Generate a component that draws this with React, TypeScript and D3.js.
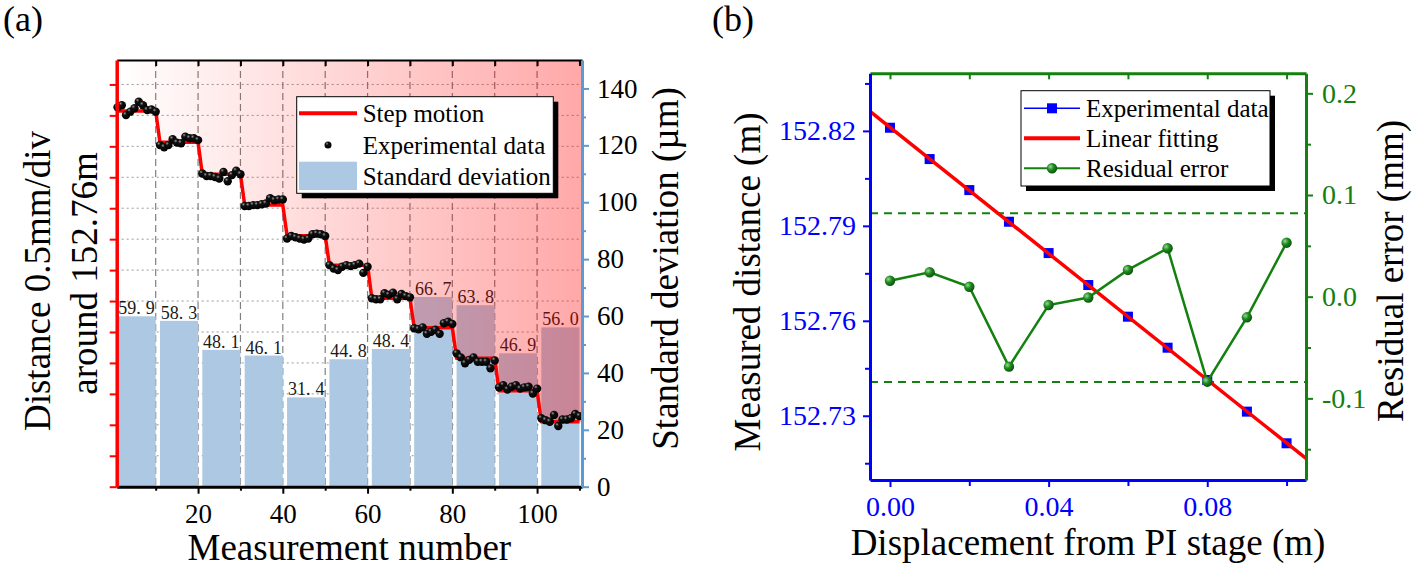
import React, { useEffect, useRef } from 'react';
import * as d3 from 'd3';

const W = 1416;
const H = 572;
const serif = '"Liberation Serif", "Times New Roman", serif';

// ---------- panel (a) ----------
// step level of each group of 10 measurements, in 0.5 mm divisions
const stepLevels = [12.14, 11.13, 10.1, 9.1, 8.11, 7.16, 6.09, 5.14, 4.15, 3.1, 2.1];
// measured distance for measurement 1..110 (divisions)
const measured = [
  12.26, 12.33, 12.01, 12.12, 12.23, 12.44, 12.33, 12.17, 12.19, 12.12,
  11.04, 10.97, 11.04, 11.23, 11.12, 11.1, 11.31, 11.26, 11.26, 11.2,
  10.12, 10.04, 10.04, 10.01, 9.96, 10.17, 9.87, 10.07, 10.21, 10.1,
  9.07, 9.07, 9.1, 9.1, 9.13, 9.15, 9.32, 9.26, 9.28, 9.28,
  8.02, 8.1, 8.06, 8.02, 7.99, 8.02, 8.16, 8.18, 8.16, 8.1,
  7.16, 7.05, 7.0, 7.11, 7.16, 7.13, 7.16, 7.21, 6.91, 7.11,
  6.09, 6.06, 6.06, 6.25, 6.2, 6.27, 6.06, 6.23, 6.16, 6.12,
  5.12, 5.09, 5.15, 4.94, 5.01, 5.07, 4.94, 5.28, 5.33, 5.26,
  4.31, 4.18, 3.99, 4.1, 4.18, 4.04, 4.04, 4.04, 3.83, 4.08,
  3.21, 3.28, 3.14, 3.23, 3.28, 3.17, 3.21, 3.23, 3.01, 3.17,
  2.21, 2.15, 2.1, 2.32, 1.96, 2.17, 2.17, 2.21, 2.35, 2.28,
];
// standard deviation per step (µm)
const stdDev = [59.9, 58.3, 48.1, 46.1, 31.4, 44.8, 48.4, 66.7, 63.8, 46.9, 56.0];
const legendA = ['Step motion', 'Experimental data', 'Standard deviation'];

// ---------- panel (b) ----------
const displacement = [0, 0.01, 0.02, 0.03, 0.04, 0.05, 0.06, 0.07, 0.08, 0.09, 0.1];
const measuredDist = [152.821, 152.8111, 152.8013, 152.7913, 152.7814, 152.7713, 152.7613, 152.7515, 152.7413, 152.7313, 152.7213];
const residual = [0.0157, 0.024, 0.0098, -0.0688, -0.0082, -0.0008, 0.0263, 0.0476, -0.0836, -0.0203, 0.0531];
const residualBounds = [0.082, -0.084];
const legendB = ['Experimental data', 'Linear fitting', 'Residual error'];

const A = { left: 116.7, right: 582, top: 60, bottom: 486.7 };
const B = { left: 870, right: 1306, top: 73.3, bottom: 480 };

const xA = d3.scaleLinear().domain([0.8, 110.6]).range([A.left, A.right]);
const yA = d3.scaleLinear().domain([0, 13.79]).range([A.bottom, A.top]);
const yA2 = d3.scaleLinear().domain([0, 150]).range([A.bottom, A.top]);

const xB = d3.scaleLinear().domain([-0.00504, 0.1049]).range([B.left, B.right]);
const yB = d3.scaleLinear().domain([152.7097, 152.8382]).range([B.bottom, B.top]);
const yB2 = d3.scaleLinear().domain([-0.1803, 0.2197]).range([B.bottom, B.top]);

const blueA = '#5b9bd5';
const barColor = '#adc8e2';
const green = '#13800f';

export default function App() {
  const ref = useRef<SVGSVGElement>(null);

  const nums = measured.map((_, i) => i + 1);
  const stepPts = nums.map(n => ({ n, v: stepLevels[Math.floor((n - 1) / 10)] }));
  const areaPts = [{ n: xA.domain()[0], v: stepLevels[0] }, ...stepPts, { n: xA.domain()[1], v: stepLevels[stepLevels.length - 1] }];
  const stepLine = d3.line<any>().x(d => xA(d.n)).y(d => yA(d.v));
  const shade = d3.area<any>().x(d => xA(d.n)).y0(A.top).y1(d => yA(d.v));

  // least squares fit for panel (b)
  const mx = d3.mean(displacement)!;
  const my = d3.mean(measuredDist)!;
  const slope = d3.sum(displacement, (x, i) => (x - mx) * (measuredDist[i] - my)) / d3.sum(displacement, x => (x - mx) ** 2);
  const icpt = my - slope * mx;
  const fitLine = xB.domain().map(x => [xB(x), yB(icpt + slope * x)] as [number, number]);

  const expLine = d3.line<number>().x((d, i) => xB(displacement[i])).y(d => yB(d));
  const resLine = d3.line<number>().x((d, i) => xB(displacement[i])).y(d => yB2(d));

  useEffect(() => {
    const root = d3.select(ref.current);
    const put = (name: string, axis: any, color: string, lineW: number, fs = 27) => {
      const g = root.select<SVGGElement>(`g.${name}`);
      g.call(axis);
      g.attr('color', color).attr('font-family', serif).attr('font-size', fs);
      g.select('.domain').attr('stroke-width', lineW);
      g.selectAll('.tick line').attr('stroke-width', 2);
      return g;
    };
    const blank = () => '';

    // panel (a)
    put('a-top', d3.axisTop(xA).tickValues(d3.range(10, 111, 10)).tickSize(-6).tickSizeOuter(0).tickFormat(blank), '#000', 2);
    put('a-bot-minor', d3.axisBottom(xA).tickValues([10, 30, 50, 70, 90, 110]).tickSize(4).tickFormat(blank), '#000', 0)
      .select('.domain').remove();
    put('a-bot', d3.axisBottom(xA).tickValues([20, 40, 60, 80, 100]).tickSize(7).tickSizeOuter(0), '#000', 3)
      .selectAll('.tick text').attr('y', 36).attr('dy', null);
    put('a-right-minor', d3.axisRight(yA2).tickValues(d3.range(10, 150, 20)).tickSize(4).tickFormat(blank), blueA, 0)
      .select('.domain').remove();
    put('a-right', d3.axisRight(yA2).tickValues(d3.range(0, 141, 20)).tickSize(7).tickPadding(8).tickSizeOuter(0), blueA, 3)
      .selectAll('.tick text').attr('fill', '#000');
    put('a-left', d3.axisLeft(yA).tickValues(d3.range(0, 14)).tickSize(7).tickSizeOuter(0).tickFormat(blank), '#ff0000', 3.5);

    // panel (b)
    put('b-top', d3.axisTop(xB).tickValues([0, 0.02, 0.04, 0.06, 0.08, 0.1]).tickSize(-6).tickSizeOuter(0).tickFormat(blank), green, 3);
    put('b-bot-minor', d3.axisBottom(xB).tickValues([0.02, 0.06, 0.1]).tickSize(6).tickFormat(blank), '#0000ff', 0)
      .select('.domain').remove();
    put('b-bot', d3.axisBottom(xB).tickValues([0, 0.04, 0.08]).tickSize(7).tickSizeOuter(0).tickFormat((d: any) => d.toFixed(2)), '#0000ff', 3, 28)
      .selectAll('.tick text').attr('y', 36).attr('dy', null);
    put('b-right-minor', d3.axisRight(yB2).tickValues([-0.15, -0.05, 0.05, 0.15]).tickSize(5).tickFormat(blank), green, 0)
      .select('.domain').remove();
    put('b-right', d3.axisRight(yB2).tickValues([-0.1, 0, 0.1, 0.2]).tickSize(7).tickPadding(9).tickSizeOuter(0).tickFormat((d: any) => d.toFixed(1)), green, 3, 28);
    put('b-left-minor', d3.axisLeft(yB).tickValues([152.715, 152.745, 152.775, 152.805, 152.835]).tickSize(5).tickFormat(blank), '#0000ff', 0)
      .select('.domain').remove();
    put('b-left', d3.axisLeft(yB).tickValues([152.73, 152.76, 152.79, 152.82]).tickSize(7).tickPadding(7).tickSizeOuter(0).tickFormat((d: any) => d.toFixed(2)), '#0000ff', 3, 28);
  }, []);

  const legA = { x: 296.7, y: 96.7, w: 256.6, h: 96.6, rows: [113.3, 145, 176] };
  const legB = { x: 1021, y: 90.7, w: 249, h: 95.3, rows: [108.3, 138.3, 168.3] };

  return (
    <div style={{ position: 'absolute', left: 0, top: 0 }}>
      <svg ref={ref} width={W} height={H} style={{ display: 'block', background: '#fff' }}>
        <defs>
          <linearGradient id="redShade" x1="0" x2="1" y1="0" y2="0">
            <stop offset="0%" stopColor="#ff0000" stopOpacity={0} />
            <stop offset="100%" stopColor="#ff0000" stopOpacity={0.34} />
          </linearGradient>
          <radialGradient id="blackBall" cx="35%" cy="30%" r="70%">
            <stop offset="0%" stopColor="#9a9a9a" />
            <stop offset="30%" stopColor="#111" />
            <stop offset="100%" stopColor="#000" />
          </radialGradient>
          <radialGradient id="greenBall" cx="35%" cy="35%" r="70%">
            <stop offset="0%" stopColor="#9ad69a" />
            <stop offset="45%" stopColor="#1e8c1e" />
            <stop offset="100%" stopColor="#0a500a" />
          </radialGradient>
        </defs>

        {/* ---------------- panel (a) ---------------- */}
        <text x={3} y={31} fontFamily={serif} fontSize={36}>(a)</text>
        <g>
          {d3.range(1, 14).map(t => (
            <line key={'h' + t} x1={A.left} x2={A.right} y1={yA(t)} y2={yA(t)} stroke="#9a9a9a" strokeWidth={1} strokeDasharray="2,3" />
          ))}
          {d3.range(10, 101, 10).map(t => (
            <line key={'v' + t} x1={xA(t)} x2={xA(t)} y1={A.top} y2={A.bottom} stroke="#808080" strokeWidth={1.2} strokeDasharray="7,4" />
          ))}
        </g>
        <g>
          {stdDev.map((v, i) => (
            <rect key={i} x={xA(i * 10 + 1)} y={yA2(v)} width={xA(i * 10 + 10) - xA(i * 10 + 1)} height={A.bottom - yA2(v)} fill={barColor} />
          ))}
          {stdDev.map((v, i) => {
            const [a, b] = v.toFixed(1).split('.');
            return (
              <text key={'t' + i} x={xA(i * 10 + 5.5)} y={yA2(v) - 2} textAnchor="middle" fontFamily={serif} fontSize={18} fill="#1a1a1a">
                {a + '.'}<tspan dx={5}>{b}</tspan>
              </text>
            );
          })}
        </g>
        <path d={shade(areaPts)!} fill="url(#redShade)" />
        <path d={stepLine(stepPts)!} fill="none" stroke="#ff0000" strokeWidth={3.5} strokeLinejoin="round" />
        <g>
          {measured.map((v, i) => (
            <circle key={i} cx={xA(nums[i])} cy={yA(v)} r={4.2} fill="url(#blackBall)" />
          ))}
        </g>

        <g className="a-top" transform={`translate(0,${A.top})`} />
        <g className="a-bot-minor" transform={`translate(0,${A.bottom})`} />
        <g className="a-bot" transform={`translate(0,${A.bottom})`} />
        <g className="a-right-minor" transform={`translate(${A.right},0)`} />
        <g className="a-right" transform={`translate(${A.right},0)`} />
        <g className="a-left" transform={`translate(${A.left},0)`} />

        <g fontFamily={serif} fontSize={25}>
          <rect x={legA.x + 5} y={legA.y + 5} width={legA.w} height={legA.h} fill="#000" />
          <rect x={legA.x} y={legA.y} width={legA.w} height={legA.h} fill="#fff" stroke="#000" strokeWidth={1} />
          <line x1={299} x2={357} y1={legA.rows[0]} y2={legA.rows[0]} stroke="#ff0000" strokeWidth={4} />
          <circle cx={328} cy={legA.rows[1]} r={3.5} fill="url(#blackBall)" />
          <rect x={299} y={legA.rows[2] - 14.3} width={58} height={28.3} fill={barColor} />
          {legendA.map((s, i) => (
            <text key={s} x={362.7} y={legA.rows[i] + 9} fill="#000">{s}</text>
          ))}
        </g>

        <g fontFamily={serif} fontSize={37} fill="#000">
          <text x={(A.left + A.right) / 2} y={560} textAnchor="middle">Measurement number</text>
          <text transform="translate(50,281) rotate(-90)" textAnchor="middle">Distance 0.5mm/div</text>
          <text transform="translate(97,273.5) rotate(-90)" textAnchor="middle">around 152.76m</text>
          <text transform="translate(678,268.5) rotate(-90)" textAnchor="middle">Standard deviation (µm)</text>
        </g>

        {/* ---------------- panel (b) ---------------- */}
        <text x={712} y={31} fontFamily={serif} fontSize={36}>(b)</text>
        {residualBounds.map((v, i) => (
          <line key={i} x1={B.left} x2={B.right} y1={yB2(v)} y2={yB2(v)} stroke={green} strokeWidth={2} strokeDasharray="8,6" />
        ))}
        <path d={expLine(measuredDist)!} fill="none" stroke="#0000ff" strokeWidth={1.2} />
        {measuredDist.map((v, i) => (
          <rect key={i} x={xB(displacement[i]) - 5} y={yB(v) - 5} width={10} height={10} fill="#0000ff" />
        ))}
        <path d={d3.line()(fitLine)!} fill="none" stroke="#ff0000" strokeWidth={3.5} />
        <path d={resLine(residual)!} fill="none" stroke={green} strokeWidth={2.5} />
        {residual.map((v, i) => (
          <circle key={i} cx={xB(displacement[i])} cy={yB2(v)} r={5.2} fill="url(#greenBall)" />
        ))}

        <g className="b-top" transform={`translate(0,${B.top})`} />
        <g className="b-bot-minor" transform={`translate(0,${B.bottom})`} />
        <g className="b-bot" transform={`translate(0,${B.bottom})`} />
        <g className="b-right-minor" transform={`translate(${B.right},0)`} />
        <g className="b-right" transform={`translate(${B.right},0)`} />
        <g className="b-left-minor" transform={`translate(${B.left},0)`} />
        <g className="b-left" transform={`translate(${B.left},0)`} />

        <g fontFamily={serif} fontSize={25}>
          <rect x={legB.x + 5} y={legB.y + 5} width={legB.w} height={legB.h} fill="#000" />
          <rect x={legB.x} y={legB.y} width={legB.w} height={legB.h} fill="#fff" stroke="#000" strokeWidth={1} />
          <line x1={1024} x2={1080} y1={legB.rows[0]} y2={legB.rows[0]} stroke="#0000ff" strokeWidth={1.5} />
          <rect x={1047} y={legB.rows[0] - 5} width={10} height={10} fill="#0000ff" />
          <line x1={1024} x2={1080} y1={legB.rows[1]} y2={legB.rows[1]} stroke="#ff0000" strokeWidth={4} />
          <line x1={1024} x2={1080} y1={legB.rows[2]} y2={legB.rows[2]} stroke={green} strokeWidth={2} />
          <circle cx={1052} cy={legB.rows[2]} r={5.2} fill="url(#greenBall)" />
          {legendB.map((s, i) => (
            <text key={s} x={1086} y={legB.rows[i] + 9} fill="#000">{s}</text>
          ))}
        </g>

        <g fontFamily={serif} fontSize={37} fill="#000">
          <text x={(B.left + B.right) / 2} y={555} textAnchor="middle">Displacement from PI stage (m)</text>
          <text transform="translate(760,282) rotate(-90)" textAnchor="middle">Measured distance (m)</text>
          <text transform="translate(1403,271) rotate(-90)" textAnchor="middle">Residual error (mm)</text>
        </g>
      </svg>
    </div>
  );
}
